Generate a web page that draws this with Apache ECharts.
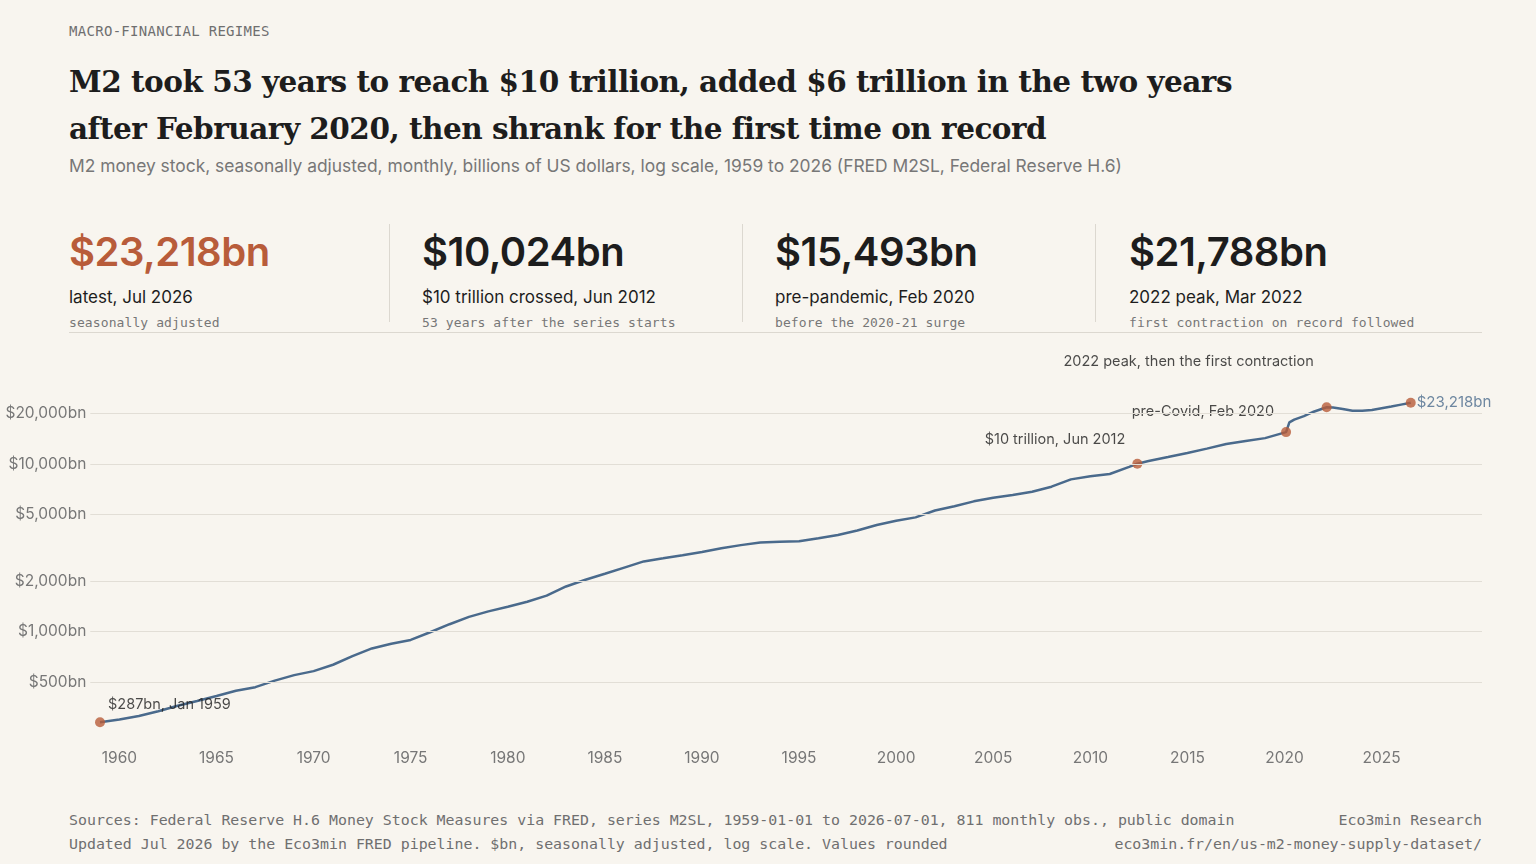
<!DOCTYPE html>
<html>
<head>
<meta charset="utf-8">
<script src="https://cdn.jsdelivr.net/npm/echarts@6/dist/echarts.min.js"></script>
<style>
  body { margin: 0; width: 1536px; height: 864px; background: #f8f5ef; font-family: Inter, sans-serif; position: relative; overflow: hidden; }
  .mono { font-family: "DejaVu Sans Mono", monospace; }
  #kicker { position: absolute; left: 69px; top: 23px; font-size: 14px; color: #6f6f6f; letter-spacing: 0.3px; }
  #title { position: absolute; left: 69px; top: 58px; width: 1250px; font-family: "DejaVu Serif", serif; font-weight: bold; font-size: 29.5px; line-height: 47px; color: #1d1d1d; letter-spacing: -0.5px; }
  #sub { position: absolute; left: 69px; top: 155px; font-size: 17.4px; color: #777; }
  .kpi { position: absolute; top: 224px; height: 98px; }
  .kpi .v { font-size: 40px; font-weight: 600; color: #1d1d1d; line-height: 56px; letter-spacing: -0.5px; }
  .kpi .l { font-size: 17px; color: #1d1d1d; margin-top: 7px; }
  .kpi .n { font-size: 13px; color: #777; margin-top: 8px; letter-spacing: 0.1px; }
  .sep { position: absolute; top: 224px; width: 1px; height: 98px; background: #dcd8d0; }
  #rule { position: absolute; left: 69px; top: 332px; width: 1413px; height: 1px; background: #dcd8d0; }
  .foot { position: absolute; font-size: 14.9px; color: #6f6f6f; }
  #chart { position: absolute; left: 0; top: 0; width: 1536px; height: 864px; }
</style>
</head>
<body>
<div id="kicker" class="mono">MACRO-FINANCIAL REGIMES</div>
<div id="title">M2 took 53 years to reach $10 trillion, added $6 trillion in the two years after February 2020, then shrank for the first time on record</div>
<div id="sub">M2 money stock, seasonally adjusted, monthly, billions of US dollars, log scale, 1959 to 2026 (FRED M2SL, Federal Reserve H.6)</div>

<div class="kpi" style="left:69px"><div class="v" style="color:#b85c3a">$23,218bn</div><div class="l">latest, Jul 2026</div><div class="n mono">seasonally adjusted</div></div>
<div class="sep" style="left:389px"></div>
<div class="kpi" style="left:422px"><div class="v">$10,024bn</div><div class="l">$10 trillion crossed, Jun 2012</div><div class="n mono">53 years after the series starts</div></div>
<div class="sep" style="left:742px"></div>
<div class="kpi" style="left:775px"><div class="v">$15,493bn</div><div class="l">pre-pandemic, Feb 2020</div><div class="n mono">before the 2020-21 surge</div></div>
<div class="sep" style="left:1095px"></div>
<div class="kpi" style="left:1129px"><div class="v">$21,788bn</div><div class="l">2022 peak, Mar 2022</div><div class="n mono">first contraction on record followed</div></div>
<div id="rule"></div>

<div class="foot mono" style="left:69px; top:811px">Sources: Federal Reserve H.6 Money Stock Measures via FRED, series M2SL, 1959-01-01 to 2026-07-01, 811 monthly obs., public domain</div>
<div class="foot mono" style="left:69px; top:835px">Updated Jul 2026 by the Eco3min FRED pipeline. $bn, seasonally adjusted, log scale. Values rounded</div>
<div class="foot mono" style="right:54px; top:811px">Eco3min Research</div>
<div class="foot mono" style="right:54px; top:835px">eco3min.fr/en/us-m2-money-supply-dataset/</div>

<div id="chart"></div>
<script>
// decimal year, M2 in $bn
const years = [1959, 1960, 1961, 1962, 1963, 1964, 1965, 1966, 1967, 1968, 1969, 1970, 1971, 1972, 1973, 1974, 1975, 1976, 1977, 1978, 1979, 1980, 1981, 1982, 1983, 1984, 1985, 1986, 1987, 1988, 1989, 1990, 1991, 1992, 1993, 1994, 1995, 1996, 1997, 1998, 1999, 2000, 2001, 2002, 2003, 2004, 2005, 2006, 2007, 2008, 2009, 2010, 2011, 2012, 2012.42, 2013, 2014, 2015, 2016, 2017, 2018, 2019, 2020.08, 2020.25, 2020.5, 2021, 2021.5, 2022.17, 2022.5, 2023, 2023.5, 2024, 2024.5, 2025, 2025.5, 2026, 2026.5];
const m2 = [287, 298, 313, 334, 360, 385, 412, 443, 465, 509, 549, 580, 633, 712, 792, 845, 890, 989, 1105, 1222, 1318, 1405, 1504, 1636, 1856, 2036, 2210, 2406, 2620, 2734, 2854, 2985, 3137, 3277, 3393, 3437, 3454, 3602, 3765, 4004, 4319, 4578, 4798, 5276, 5591, 5981, 6288, 6520, 6826, 7316, 8091, 8442, 8713, 9600, 10024, 10416, 10990, 11620, 12340, 13140, 13710, 14260, 15493, 17700, 18400, 19300, 20500, 21788, 21700, 21300, 20800, 20800, 21000, 21500, 22000, 22600, 23218];
const yTicks = [500, 1000, 2000, 5000, 10000, 20000];
const xTicks = [1960, 1965, 1970, 1975, 1980, 1985, 1990, 1995, 2000, 2005, 2010, 2015, 2020, 2025];
const keyPoints = [
  { x: 1959, y: 287, text: '$287bn, Jan 1959' },
  { x: 2012.42, y: 10024, text: '$10 trillion, Jun 2012' },
  { x: 2020.08, y: 15493, text: 'pre-Covid, Feb 2020' },
  { x: 2022.17, y: 21788, text: '2022 peak, then the first contraction' },
  { x: 2026.5, y: 23218, text: '$23,218bn' }
];
const labelCfg = [
  { position: 'right', offset: [-2, -18] },
  { position: 'left', offset: [-2, -24] },
  { position: 'left', offset: [-2, -20] },
  { position: 'top', offset: [-138, -28] },
  { position: 'right', offset: [-4, 0], color: '#4a6a8c', fontSize: 15 }
];

const chart = echarts.init(document.getElementById('chart'));
chart.setOption({
  animation: false,
  grid: { left: 90.3, right: 54, top: 344, bottom: 124 },
  xAxis: {
    type: 'value', min: 1958.5, max: 2030.17,
    axisLine: { show: false }, axisTick: { show: false }, splitLine: { show: false },
    axisLabel: { customValues: xTicks, formatter: v => String(v), color: '#777', fontSize: 15.5, margin: 10, fontFamily: 'Inter' }
  },
  yAxis: {
    type: 'log', min: 225, max: 52000,
    axisLine: { show: false }, axisTick: { show: false }, splitLine: { show: false }, axisLabel: { show: false }
  },
  series: [
    {
      type: 'line', data: years.map((y, i) => [y, m2[i]]), showSymbol: false,
      lineStyle: { color: '#4a6a8c', width: 2.5 },
      markLine: {
        silent: true, symbol: 'none',
        lineStyle: { color: '#e2ded6', width: 1.2, type: 'solid' },
        label: { position: 'start', color: '#777', fontSize: 15.5, fontFamily: 'Inter', distance: 4, formatter: p => '$' + p.value.toLocaleString('en-US') + 'bn' },
        data: yTicks.map(v => ({ yAxis: v }))
      },
      z: 2
    },
    {
      type: 'scatter', symbolSize: 10, itemStyle: { color: '#b85c3a' }, z: 3,
      data: keyPoints.map((p, i) => ({
        value: [p.x, p.y],
        label: Object.assign({ show: true, formatter: p.text, color: '#1d1d1d', fontSize: 14.5, fontFamily: 'Inter' }, labelCfg[i])
      }))
    }
  ]
});
</script>
</body>
</html>
